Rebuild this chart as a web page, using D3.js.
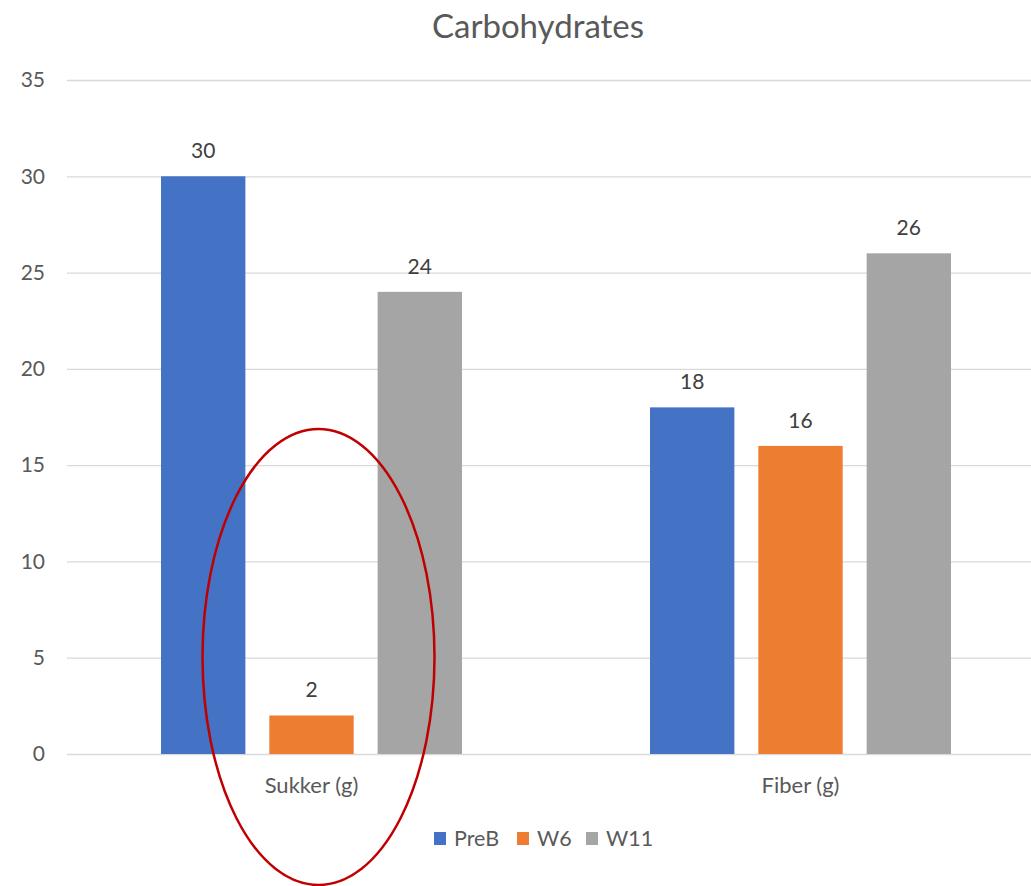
<!DOCTYPE html>
<html>
<head>
<meta charset="utf-8">
<script src="https://cdn.jsdelivr.net/npm/d3@7"></script>
<style>
  html, body { margin: 0; padding: 0; background: #fff; }
  svg { display: block; font-family: Lato, "Open Sans", sans-serif; }
</style>
</head>
<body>
<svg id="chart" width="1031" height="886"></svg>
<script>
// Chart data
const categories = ["Sukker (g)", "Fiber (g)"];
const seriesNames = ["PreB", "W6", "W11"];
const seriesColors = ["#4472C4", "#ED7D31", "#A5A5A5"];
const preB = [30, 18];
const w6 = [2, 16];
const w11 = [24, 26];
const yTicks = [0, 5, 10, 15, 20, 25, 30, 35];
const title = "Carbohydrates";

const seriesValues = [preB, w6, w11];
const rows = categories.map((c, i) => ({
  category: c,
  values: seriesNames.map((s, j) => ({ series: s, value: seriesValues[j][i], color: seriesColors[j] }))
}));

const svg = d3.select("#chart");
const textColor = "#595959";

const y = d3.scaleLinear().domain([0, 35]).range([754, 80]);
const x0 = d3.scaleBand().domain(categories).range([67, 1045]).padding(0);
const groupPad = 94;
const x1 = d3.scaleBand().domain(seriesNames)
  .range([groupPad, x0.bandwidth() - groupPad])
  .paddingInner(0.221).paddingOuter(0);

// Gridlines
svg.append("g")
  .selectAll("line")
  .data(yTicks)
  .join("line")
  .attr("x1", 67).attr("x2", 1031)
  .attr("y1", d => y(d) + 0.5).attr("y2", d => y(d) + 0.5)
  .attr("stroke", "#D9D9D9").attr("stroke-width", 1.3);

// Y axis labels
const yAxis = d3.axisLeft(y).tickValues(yTicks).tickSize(0).tickPadding(0);
const yg = svg.append("g").attr("transform", "translate(45,0)").call(yAxis);
yg.select(".domain").remove();
yg.selectAll("text")
  .attr("fill", textColor)
  .style("font-size", "21px")
  .style("font-family", "Lato, 'Open Sans', sans-serif");

// Bars
const groups = svg.append("g")
  .selectAll("g")
  .data(rows)
  .join("g")
  .attr("transform", d => `translate(${x0(d.category)},0)`);

groups.selectAll("rect")
  .data(d => d.values)
  .join("rect")
  .attr("x", d => x1(d.series))
  .attr("y", d => y(d.value))
  .attr("width", x1.bandwidth())
  .attr("height", d => y(0) - y(d.value))
  .attr("fill", d => d.color);

// Value labels
groups.selectAll("text")
  .data(d => d.values)
  .join("text")
  .attr("x", d => x1(d.series) + x1.bandwidth() / 2)
  .attr("y", d => y(d.value) - 18)
  .attr("text-anchor", "middle")
  .attr("fill", "#404040")
  .style("font-size", "21px")
  .text(d => d.value);

// Category labels
const xAxis = d3.axisBottom(x0).tickSize(0).tickPadding(0);
const xg = svg.append("g").attr("transform", `translate(0,${y(0)})`).call(xAxis);
xg.select(".domain").remove();
xg.selectAll("text")
  .attr("dy", "0")
  .attr("y", 39)
  .attr("fill", textColor)
  .style("font-size", "22px")
  .style("font-family", "Lato, 'Open Sans', sans-serif");

// Title
svg.append("text")
  .attr("x", 538).attr("y", 38)
  .attr("text-anchor", "middle")
  .attr("fill", textColor)
  .style("font-size", "33px")
  .text(title);

// Legend
const legendX = [434, 517, 586];
const legend = svg.append("g")
  .selectAll("g")
  .data(seriesNames)
  .join("g")
  .attr("transform", (d, i) => `translate(${legendX[i]},832)`);
legend.append("rect")
  .attr("width", 12).attr("height", 13)
  .attr("fill", (d, i) => seriesColors[i]);
legend.append("text")
  .attr("x", 20).attr("y", 14)
  .attr("fill", textColor)
  .style("font-size", "21.5px")
  .text(d => d);

// Highlight ellipse around the sugar group
svg.append("ellipse")
  .attr("cx", x0(categories[0]) + x0.bandwidth() / 2 + 7)
  .attr("cy", 657)
  .attr("rx", 116)
  .attr("ry", 228)
  .attr("fill", "none")
  .attr("stroke", "#C00000")
  .attr("stroke-width", 2.5);
</script>
</body>
</html>
